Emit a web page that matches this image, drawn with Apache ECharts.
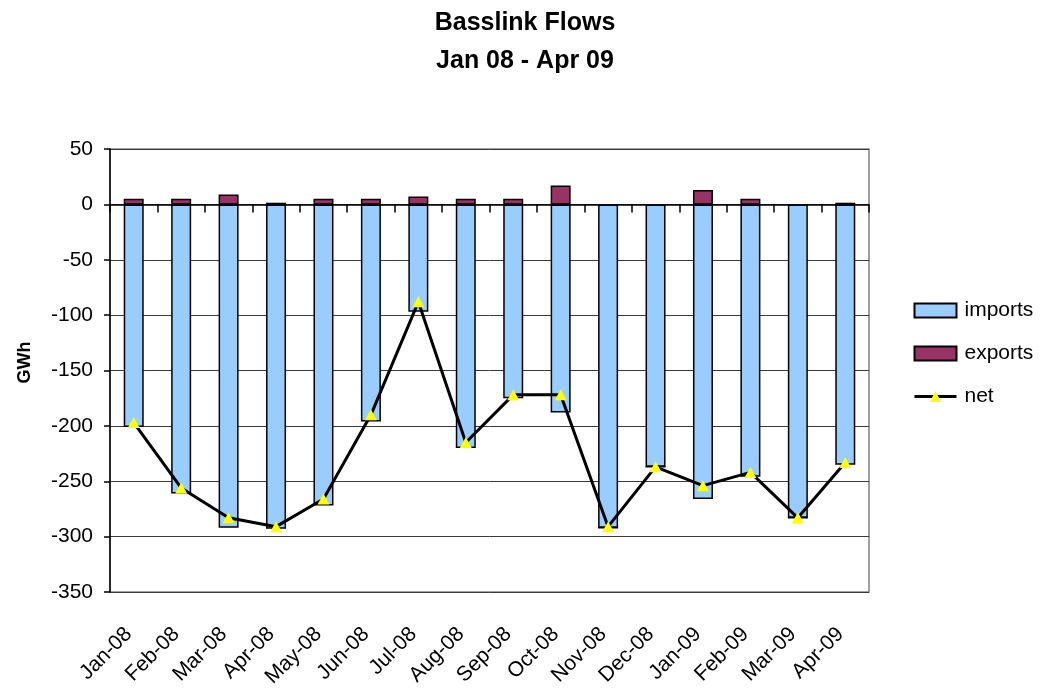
<!DOCTYPE html>
<html>
<head>
<meta charset="utf-8">
<script src="https://cdn.jsdelivr.net/npm/echarts@6/dist/echarts.min.js"></script>
<style>html,body{margin:0;padding:0;background:#fff}#c{width:1050px;height:694px}</style>
</head>
<body>
<div id="c"></div>
<script>
const categories = ['Jan-08','Feb-08','Mar-08','Apr-08','May-08','Jun-08','Jul-08','Aug-08','Sep-08','Oct-08','Nov-08','Dec-08','Jan-09','Feb-09','Mar-09','Apr-09'];
const imports = [-201,-261,-292,-293,-272,-196,-97,-220,-175,-188,-292,-237,-266,-246,-283,-235];
const exports = [5,5,9,1.5,5,5,7,5,5,17,0,0,13,5,0,1.5];
const net = [-197,-256,-283,-291,-266,-190,-88,-215,-172,-172,-291,-237,-254,-242,-283,-233];
const yTicks = {min:-350, max:50, interval:50};

const FONT = "'Liberation Sans', Arial, sans-serif";
const chart = echarts.init(document.getElementById('c'));
chart.setOption({
  animation:false,
  backgroundColor:'#fff',
  title:[
    {text:'Basslink Flows', left:'center', top:6, textStyle:{fontFamily:FONT, fontSize:25, fontWeight:'bold', color:'#000'}},
    {text:'Jan 08 - Apr 09', left:'center', top:44, textStyle:{fontFamily:FONT, fontSize:25, fontWeight:'bold', color:'#000'}}
  ],
  legend:{
    orient:'vertical', left:913, top:300, padding:0, itemWidth:42, itemHeight:14, itemGap:22,
    textStyle:{fontFamily:FONT, fontSize:21, color:'#000', padding:[0,0,0,3]},
    data:[
      {name:'imports', icon:'rect'},
      {name:'exports', icon:'rect'},
      {name:'net', lineStyle:{width:3, color:'#000'}}
    ]
  },
  grid:{left:110, right:181, top:149, bottom:102, show:true, borderColor:'#808080', borderWidth:1.5, containLabel:false},
  xAxis:[
    {type:'category', data:categories, position:'bottom',
     axisLine:{show:true, onZero:true, lineStyle:{color:'#000', width:1.5}},
     axisTick:{show:true, interval:0, length:8, lineStyle:{color:'#000', width:1.5}},
     axisLabel:{show:false}, splitLine:{show:false}},
    {type:'category', data:categories, position:'bottom',
     axisLine:{show:false, onZero:false}, axisTick:{show:false},
     axisLabel:{show:true, interval:0, rotate:45, margin:34, padding:[0,7,0,0], fontFamily:FONT, fontSize:21, color:'#000'},
     splitLine:{show:false}}
  ],
  yAxis:{
    type:'value', min:yTicks.min, max:yTicks.max, interval:yTicks.interval,
    name:'GWh', nameLocation:'middle', nameRotate:90, nameGap:76,
    nameTextStyle:{fontFamily:FONT, fontSize:18, fontWeight:'bold', color:'#000', padding:[0,0,0,16]},
    axisLine:{show:true, lineStyle:{color:'#000', width:1.5}},
    axisTick:{show:true, length:6, lineStyle:{color:'#000', width:1.5}},
    axisLabel:{fontFamily:FONT, fontSize:21, color:'#000', margin:17},
    splitLine:{show:true, lineStyle:{color:'#3a3a3a', width:1}}
  },
  series:[
    {name:'imports', type:'bar', stack:'s', xAxisIndex:0, data:imports, barWidth:20,
     itemStyle:{color:'#99CCFF', borderColor:'#000', borderWidth:1.5}},
    {name:'exports', type:'bar', stack:'s', xAxisIndex:0, data:exports, barWidth:20,
     itemStyle:{color:'#993366', borderColor:'#000', borderWidth:1.5}},
    {name:'net', type:'line', xAxisIndex:0, data:net, z:5,
     symbol:'triangle', symbolSize:[12,11],
     lineStyle:{color:'#000', width:3},
     itemStyle:{color:'#FFFF00', borderWidth:0}}
  ]
});
</script>
</body>
</html>
